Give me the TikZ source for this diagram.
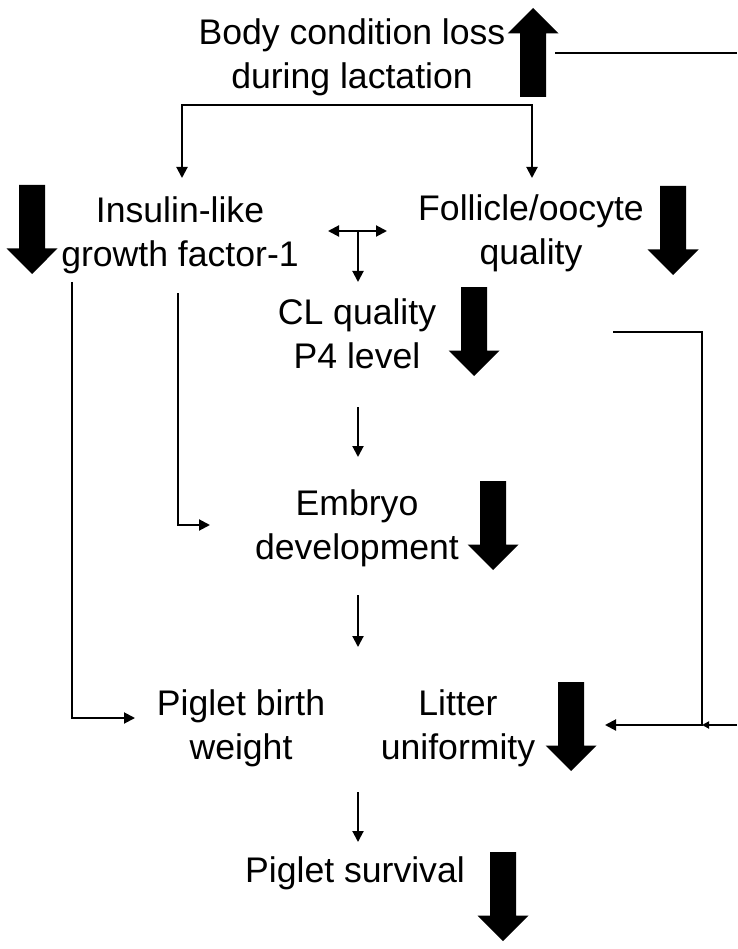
\documentclass[tikz,border=0pt]{standalone}
\usepackage{fontspec}
\setmainfont{Liberation Sans}
\usetikzlibrary{arrows.meta,shapes.arrows}

\tikzset{
  lbl/.style={align=center, inner sep=0pt, font=\fontsize{35.6}{44}\selectfont},
  fat/.style={shape=single arrow, fill=black, inner sep=12pt, minimum height=89pt,
    single arrow head extend=12.5pt, single arrow tip angle=90},
  fatdown/.style={fat, shape border rotate=270},
  fatup/.style={fat, shape border rotate=90},
}

\begin{document}
\begin{tikzpicture}[x=1pt, y=-1pt, line width=2pt, >={Triangle[length=11pt,width=11pt]}]
\useasboundingbox (0,0) rectangle (737,949);
% labels
\node at (352, 57) [lbl] (body) {Body condition loss\\during lactation};
\node at (180, 235) [lbl] (igf) {Insulin-like\\growth factor-1};
\node at (531, 233) [lbl] (follicle) {Follicle/oocyte\\quality};
\node at (357, 334) [lbl] (cl) {CL quality\\P4 level};
\node at (357, 528) [lbl] (embryo) {Embryo\\development};
\node at (241, 728) [lbl] (birthwt) {Piglet birth\\weight};
\node at (458, 728) [lbl] (litter) {Litter\\uniformity};
\node at (355, 873) [lbl] (survival) {Piglet survival};
% big arrows
\node at (533, 59) [fatup] (upbody) {};
\node at (32, 223) [fatdown] (dnigf) {};
\node at (673, 224) [fatdown] (dnfoll) {};
\node at (474, 325) [fatdown] (dncl) {};
\node at (493, 519) [fatdown] (dnemb) {};
\node at (571, 720) [fatdown] (dnlit) {};
\node at (503, 890) [fatdown] (dnsurv) {};
% end points of the thin lines
\coordinate (forkL) at (182, 178);
\coordinate (forkR) at (532, 178);
\coordinate (dblL) at (328, 231);
\coordinate (dblR) at (387, 231);
\coordinate (dblM) at (358, 231);
\coordinate (clin) at (358, 282);
\coordinate (clout) at (358, 407);
\coordinate (embin) at (358, 457);
\coordinate (embout) at (358, 595);
\coordinate (litin) at (358, 647);
\coordinate (litout) at (358, 792);
\coordinate (survin) at (358, 842);
\coordinate (igfA) at (178, 293);
\coordinate (igfB) at (72, 282);
\coordinate (embL) at (210, 525);
\coordinate (bwL) at (135, 718);
\coordinate (edgeT) at (737, 53);
\coordinate (edgeB) at (737, 725);
\coordinate (feedR) at (702, 725);
\coordinate (follout) at (613, 332);
\coordinate (litR) at (605, 725);
% thin arrows
\draw [<->] (forkL) -- ++(0, -73) -| (forkR);
\draw [<->] (dblL) to (dblR);
\draw [->] (dblM) to (clin);
\draw [->] (clout) to (embin);
\draw [->] (embout) to (litin);
\draw [->] (litout) to (survin);
\draw [->] (igfA) |- (embL);
\draw [->] (igfB) |- (bwL);
\draw (upbody.east |- edgeT) ++(8, 0) -- (edgeT);
\draw [-{Triangle[length=7pt,width=7pt]}] (edgeB) to (feedR);
\draw [->] (follout) -| (feedR) -- (litR);
\end{tikzpicture}
\end{document}
